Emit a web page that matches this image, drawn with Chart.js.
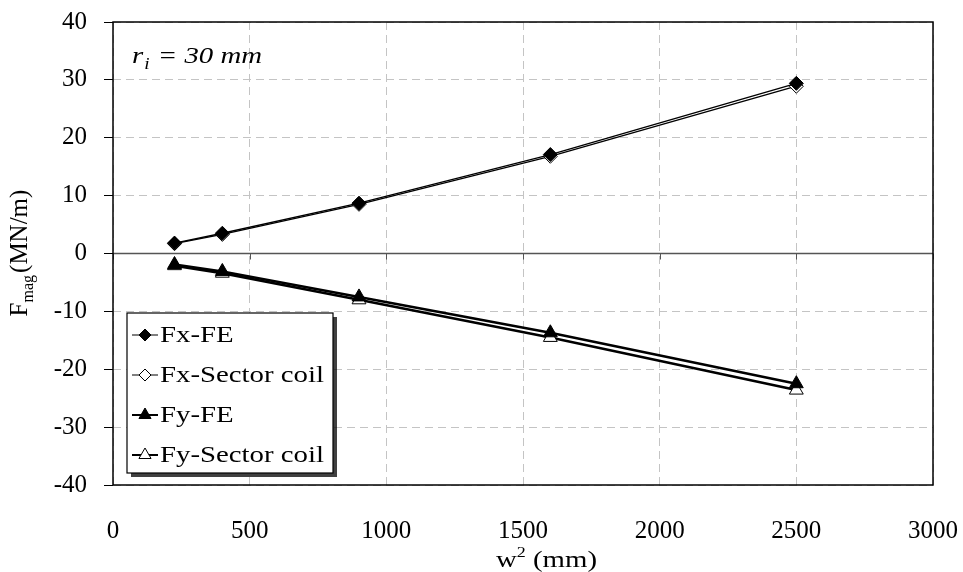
<!DOCTYPE html>
<html>
<head>
<meta charset="utf-8">
<script src="https://cdn.jsdelivr.net/npm/chart.js@4.4.1/dist/chart.umd.min.js"></script>
<style>
  html, body { margin: 0; padding: 0; background: #fff; }
  #wrap { width: 963px; height: 572px; position: relative; }
</style>
</head>
<body>
<div id="wrap"><canvas id="myChart" width="963" height="572"></canvas></div>
<script>
const w2 = [225, 400, 900, 1600, 2500];
const fxFE = [1.8, 3.5, 8.7, 17.1, 29.4];
const fxSector = [1.7, 3.3, 8.5, 16.8, 28.9];
const fyFE = [-1.9, -3.1, -7.5, -13.7, -22.5];
const fySector = [-2.1, -3.4, -8.0, -14.5, -23.6];
const xTicks = [0, 500, 1000, 1500, 2000, 2500, 3000];
const yTicks = [-40, -30, -20, -10, 0, 10, 20, 30, 40];

const serif = "'Liberation Serif', 'Times New Roman', serif";
const stretch = 1.2; // text in the picture is a bit wide

function pts(ys) {
  return w2.map((x, i) => ({ x: x, y: ys[i] }));
}

const series = [
  { label: "Fx-FE", data: fxFE, style: "rectRot", fill: "#000", radius: 7, width: 1.3 },
  { label: "Fx-Sector coil", data: fxSector, style: "rectRot", fill: "#fff", radius: 7, width: 1.3 },
  { label: "Fy-FE", data: fyFE, style: "triangle", fill: "#000", radius: 8, width: 2.6 },
  { label: "Fy-Sector coil", data: fySector, style: "triangle", fill: "#fff", radius: 8, width: 2.6 },
];

function wideText(ctx, text, x, y) {
  ctx.save();
  ctx.translate(x, y);
  ctx.scale(stretch, 1);
  ctx.fillText(text, 0, 0);
  ctx.restore();
  return ctx.measureText(text).width * stretch;
}

function noPad(scale) {
  scale.paddingLeft = 0;
  scale.paddingRight = 0;
  scale.paddingTop = 0;
  scale.paddingBottom = 0;
}

const extras = {
  id: "extras",
  beforeDatasetsDraw(chart) {
    const { ctx, chartArea: { left, right }, scales: { x, y } } = chart;
    const y0 = y.getPixelForValue(0);
    ctx.save();
    ctx.strokeStyle = "#555";
    ctx.lineWidth = 1.5;
    ctx.beginPath();
    ctx.moveTo(left, y0);
    ctx.lineTo(right, y0);
    ctx.stroke();
    ctx.lineWidth = 1;
    xTicks.forEach((v) => {
      const px = Math.round(x.getPixelForValue(v)) + 0.5;
      ctx.beginPath();
      ctx.moveTo(px, y0);
      ctx.lineTo(px, y0 + 6);
      ctx.stroke();
    });
    ctx.restore();
  },
  afterDraw(chart) {
    const { ctx, chartArea: { left, right, top, bottom } } = chart;
    ctx.save();
    ctx.strokeStyle = "#000";
    ctx.lineWidth = 1.5;
    ctx.strokeRect(left, top, right - left, bottom - top);

    // legend
    const lx = 127, ly = 313, lw = 206, lh = 160;
    ctx.fillStyle = "rgba(0,0,0,0.75)";
    ctx.fillRect(lx + 4, ly + 4, lw, lh);
    ctx.fillStyle = "#fff";
    ctx.fillRect(lx, ly, lw, lh);
    ctx.strokeStyle = "#000";
    ctx.lineWidth = 1.2;
    ctx.strokeRect(lx, ly, lw, lh);
    ctx.font = "24px " + serif;
    ctx.textBaseline = "middle";
    series.forEach((s, i) => {
      const cy = ly + 22 + i * 40;
      ctx.strokeStyle = "#000";
      ctx.lineWidth = s.width > 2 ? 2 : 1;
      ctx.beginPath();
      ctx.moveTo(lx + 5, cy);
      ctx.lineTo(lx + 31, cy);
      ctx.stroke();
      ctx.fillStyle = s.fill;
      ctx.lineWidth = 1;
      Chart.helpers.drawPoint(ctx, {
        pointStyle: s.style,
        radius: s.radius - 1,
        borderWidth: 1,
        rotation: 0,
      }, lx + 18, cy);
      ctx.fillStyle = "#000";
      wideText(ctx, s.label, lx + 33, cy + 1);
    });

    // r_i = 30 mm
    ctx.fillStyle = "#000";
    ctx.textBaseline = "alphabetic";
    ctx.font = "italic 24px " + serif;
    let px = 132;
    px += wideText(ctx, "r", px, 63);
    ctx.font = "italic 16px " + serif;
    px += wideText(ctx, "i", px + 1, 69) + 2;
    ctx.font = "italic 24px " + serif;
    wideText(ctx, " = 30 mm", px, 63);

    // y title
    ctx.translate(27, 253);
    ctx.rotate(-Math.PI / 2);
    ctx.font = "25px " + serif;
    const fW = ctx.measureText("F").width;
    ctx.font = "16px " + serif;
    const mW = ctx.measureText("mag").width;
    ctx.font = "25px " + serif;
    const restW = ctx.measureText("(MN/m)").width;
    const sx = -(fW + mW + 2 + restW) / 2;
    ctx.fillText("F", sx, 0);
    ctx.font = "16px " + serif;
    ctx.fillText("mag", sx + fW, 6);
    ctx.font = "25px " + serif;
    ctx.fillText("(MN/m)", sx + fW + mW + 2, 0);
    ctx.restore();

    // x title
    ctx.save();
    ctx.fillStyle = "#000";
    ctx.textBaseline = "alphabetic";
    ctx.font = "24px " + serif;
    let tx = 496;
    tx += wideText(ctx, "w", tx, 567);
    ctx.font = "15px " + serif;
    tx += wideText(ctx, "2", tx, 557);
    ctx.font = "24px " + serif;
    wideText(ctx, " (mm)", tx, 567);
    ctx.restore();
  },
};

const ctx = document.getElementById("myChart");
new Chart(ctx, {
  type: "scatter",
  data: {
    datasets: series.map((s) => ({
      label: s.label,
      data: pts(s.data),
      showLine: true,
      borderColor: "#000",
      borderWidth: s.width,
      pointStyle: s.style,
      pointRadius: s.radius,
      pointBackgroundColor: s.fill,
      pointBorderColor: "#000",
      pointBorderWidth: 1,
      tension: 0,
    })),
  },
  options: {
    responsive: false,
    animation: false,
    events: [],
    layout: { padding: { top: 22, right: 30, left: 0, bottom: 0 } },
    plugins: {
      legend: { display: false },
      tooltip: { enabled: false },
    },
    scales: {
      x: {
        type: "linear",
        min: 0,
        max: 3000,
        afterFit(scale) { scale.height = 87; noPad(scale); },
        afterBuildTicks(scale) { scale.ticks = xTicks.map((v) => ({ value: v })); },
        grid: { color: "#c4c4c4", lineWidth: 1, drawTicks: false },
        border: { display: false, dash: [8, 5] },
        ticks: {
          color: "#000",
          font: { family: serif, size: 25 },
          padding: 31,
          maxRotation: 0,
          callback: (v) => String(v),
        },
      },
      y: {
        type: "linear",
        min: -40,
        max: 40,
        afterFit(scale) { scale.width = 113; noPad(scale); },
        afterBuildTicks(scale) { scale.ticks = yTicks.map((v) => ({ value: v })); },
        grid: { color: "#c4c4c4", lineWidth: 1, tickLength: 9, tickColor: "#000", tickBorderDash: [] },
        border: { display: false, dash: [8, 5] },
        ticks: {
          color: "#000",
          font: { family: serif, size: 25 },
          padding: 17,
          callback: (v) => String(v),
        },
      },
    },
  },
  plugins: [extras],
});
</script>
</body>
</html>
